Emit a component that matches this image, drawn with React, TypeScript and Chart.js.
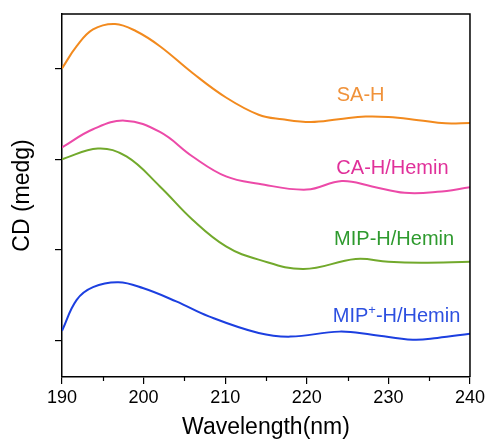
import React, { useEffect, useRef } from "react";
import { Chart, registerables } from "chart.js";
Chart.register(...registerables);

const saX = [190, 191.8, 193.8, 196.5, 199.1, 202, 206, 210.1, 214.1, 217, 220.5, 223.9, 227.2, 230, 233.7, 237, 240];
const saY = [3.0, 3.245, 3.43, 3.49, 3.41, 3.245, 2.95, 2.68, 2.49, 2.44, 2.41, 2.44, 2.47, 2.465, 2.43, 2.395, 2.4];

const caX = [190, 193.8, 197.7, 202, 206, 210.1, 214.1, 220, 224.3, 228, 232, 236, 240];
const caY = [2.13, 2.33, 2.425, 2.3, 2.03, 1.81, 1.73, 1.665, 1.76, 1.7, 1.63, 1.64, 1.69];

const mipX = [190, 194.4, 197.9, 202, 206, 210.1, 214.1, 219.6, 226, 230, 234, 240];
const mipY = [2.0, 2.117, 2.03, 1.7, 1.334, 1.04, 0.893, 0.79, 0.9, 0.87, 0.86, 0.87];

const mippX = [190, 191.8, 193.8, 196.9, 199.9, 204, 208, 214.1, 218, 224, 228, 233, 236, 240];
const mippY = [0.11, 0.45, 0.59, 0.643, 0.58, 0.433, 0.268, 0.085, 0.045, 0.1, 0.066, 0.01, 0.03, 0.077];

const seriesNames = ["SA-H", "CA-H/Hemin", "MIP-H/Hemin", "MIP+-H/Hemin"];
const labelX = [226.6, 230.5, 230.7, 231];
const labelY = [2.7, 1.9, 1.11, 0.265];

const xMin = 190;
const xMax = 240;
const yMin = -0.4;
const yMax = 3.6;
const yTicks = [0, 1, 2, 3];
const xMinorTicks = [195, 205, 215, 225, 235];

const FONT = '"Liberation Sans", Arial, sans-serif';
const lineColors = ["#f28a1e", "#ec4aa8", "#72a92c", "#1c3fe0"];
const textColors = ["#f0923a", "#e0309a", "#2e9a2e", "#2d50e0"];

const pts = (xs: number[], ys: number[]) => xs.map((x, i) => ({ x, y: ys[i] }));

const decorPlugin = {
  id: "decor",
  afterDraw(chart: any) {
    const { ctx, chartArea, scales } = chart;
    const xs = scales.x;
    const ys = scales.y;
    ctx.save();
    ctx.strokeStyle = "#000";
    ctx.lineWidth = 1.5;
    ctx.beginPath();
    ctx.moveTo(chartArea.left, chartArea.top);
    ctx.lineTo(chartArea.right, chartArea.top);
    ctx.lineTo(chartArea.right, chartArea.bottom);
    ctx.stroke();
    ctx.lineWidth = 1.2;
    xMinorTicks.forEach((v) => {
      const px = Math.round(xs.getPixelForValue(v)) + 0.5;
      ctx.beginPath();
      ctx.moveTo(px, chartArea.bottom);
      ctx.lineTo(px, chartArea.bottom + 4);
      ctx.stroke();
    });
    ctx.textBaseline = "middle";
    seriesNames.forEach((name, i) => {
      const cx = xs.getPixelForValue(labelX[i]);
      const cy = ys.getPixelForValue(labelY[i]);
      ctx.fillStyle = textColors[i];
      if (name.startsWith("MIP+")) {
        const a = "MIP";
        const sup = "+";
        const b = name.slice(4);
        ctx.font = `20px ${FONT}`;
        const wa = ctx.measureText(a).width;
        const wb = ctx.measureText(b).width;
        ctx.font = `13px ${FONT}`;
        const ws = ctx.measureText(sup).width;
        const total = wa + ws + wb;
        const x0 = cx - total / 2;
        ctx.textAlign = "left";
        ctx.font = `20px ${FONT}`;
        ctx.fillText(a, x0, cy);
        ctx.font = `13px ${FONT}`;
        ctx.fillText(sup, x0 + wa, cy - 6);
        ctx.font = `20px ${FONT}`;
        ctx.fillText(b, x0 + wa + ws, cy);
      } else {
        ctx.textAlign = "center";
        ctx.font = `20px ${FONT}`;
        ctx.fillText(name, cx, cy);
      }
    });
    ctx.fillStyle = "#000";
    ctx.font = `23px ${FONT}`;
    ctx.textAlign = "center";
    ctx.fillText("Wavelength(nm)", (chartArea.left + chartArea.right) / 2, chartArea.bottom + 51);
    ctx.translate(chartArea.left - 39, (chartArea.top + chartArea.bottom) / 2);
    ctx.rotate(-Math.PI / 2);
    ctx.fillText("CD (medg)", 0, 0);
    ctx.restore();
  },
};

export default function App() {
  const ref = useRef<HTMLCanvasElement | null>(null);
  useEffect(() => {
    document.body.style.margin = "0";
    const canvas = ref.current;
    if (!canvas) return;
    const chart = new Chart(canvas, {
      type: "line",
      data: {
        datasets: [
          { label: seriesNames[0], data: pts(saX, saY), borderColor: lineColors[0] },
          { label: seriesNames[1], data: pts(caX, caY), borderColor: lineColors[1] },
          { label: seriesNames[2], data: pts(mipX, mipY), borderColor: lineColors[2] },
          { label: seriesNames[3], data: pts(mippX, mippY), borderColor: lineColors[3] },
        ].map((d) => ({
          ...d,
          borderWidth: 2,
          pointRadius: 0,
          fill: false,
          tension: 0.4,
        })),
      },
      options: {
        responsive: false,
        animation: false,
        layout: { padding: { top: 14, right: 16, left: 0, bottom: 0 } },
        plugins: { legend: { display: false }, tooltip: { enabled: false } },
        scales: {
          x: {
            type: "linear",
            min: xMin,
            max: xMax,
            ticks: {
              stepSize: 10,
              color: "#000",
              font: { family: FONT, size: 18 },
              padding: 3,
              maxRotation: 0,
            },
            grid: { display: true, drawOnChartArea: false, drawTicks: true, tickLength: 7, color: "#000", lineWidth: 1.2 },
            border: { display: true, color: "#000", width: 1.5 },
            afterFit: (s: any) => {
              s.height = 64;
            },
          },
          y: {
            type: "linear",
            min: yMin,
            max: yMax,
            ticks: { display: false },
            afterBuildTicks: (s: any) => {
              s.ticks = yTicks.map((v) => ({ value: v }));
            },
            grid: { display: true, drawOnChartArea: false, drawTicks: true, tickLength: 7, color: "#000", lineWidth: 1.2 },
            border: { display: true, color: "#000", width: 1.5 },
            afterFit: (s: any) => {
              s.width = 62;
            },
          },
        },
      },
      plugins: [decorPlugin],
    });
    return () => chart.destroy();
  }, []);
  return (
    <div style={{ width: 488, height: 441, background: "#fff" }}>
      <canvas ref={ref} width={488} height={441} style={{ display: "block" }} />
    </div>
  );
}
